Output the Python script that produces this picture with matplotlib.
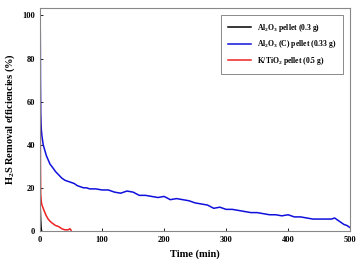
import matplotlib
matplotlib.use('Agg')
import matplotlib.pyplot as plt

# Al2O3 pellet (0.3 g)
t_black = [0, 0.5, 1, 1.5, 2, 2.5]
y_black = [13, 9, 5, 2, 0.5, 0]

# Al2O3 (C) pellet (0.33 g)
t_blue = [0, 0.3, 0.6, 1, 1.5, 2, 3, 4, 5, 7, 10, 13, 16, 20, 25, 30, 35, 40, 45, 50,
          55, 60, 65, 70, 75, 80, 90, 100, 110, 120, 130, 140, 150, 160, 170, 180, 190,
          200, 210, 220, 230, 240, 250, 260, 270, 280, 290, 300, 310, 320, 330, 340,
          350, 360, 370, 380, 390, 400, 410, 420, 430, 440, 450, 460, 470, 475, 480,
          485, 490, 495, 500]
y_blue = [100, 92, 70, 55, 50, 47, 44, 42, 40, 38, 35, 33, 31, 29.5, 27.5, 26, 24.5, 23.5,
          23, 22.5, 22, 21, 20.5, 20, 20, 19.5, 19.5, 19, 19, 18, 17.5, 18.5, 18, 16.5,
          16.5, 16, 15.5, 16, 14.5, 15, 14.5, 14, 13, 12.5, 12, 10.5, 11, 10, 10, 9.5,
          9, 8.5, 8.5, 8, 7.5, 7.5, 7, 7.5, 6.5, 6.5, 6, 5.5, 5.5, 5.5, 5.5, 6, 5,
          4, 3, 2.5, 1.5]

# K/TiO2 pellet (0.5 g)
t_red = [0, 0.3, 0.6, 1, 1.5, 2, 3, 5, 7, 10, 13, 16, 20, 25, 30, 35, 40, 45, 48, 50]
y_red = [92, 60, 30, 17, 15, 13.5, 12, 10.5, 9, 7, 5.5, 4.5, 3.5, 2.5, 2, 1, 0.5, 0.5, 1, 0.3]

plt.rcParams['font.family'] = ['Liberation Serif', 'DejaVu Serif']
plt.rcParams['font.weight'] = 'bold'
plt.rcParams['mathtext.fontset'] = 'custom'
plt.rcParams['mathtext.rm'] = 'Liberation Serif:bold'
plt.rcParams['mathtext.bf'] = 'Liberation Serif:bold'
plt.rcParams['mathtext.default'] = 'bf'

fig = plt.figure(figsize=(3.58, 2.63), dpi=100)
ax = fig.add_axes([0.112, 0.122, 0.866, 0.848])
ax.plot(t_black, y_black, c='black', lw=1.1, label='Al$_2$O$_3$ pellet (0.3 g)')
ax.plot(t_blue, y_blue, c='#1010dd', lw=1.1, label='Al$_2$O$_3$ (C) pellet (0.33 g)')
ax.plot(t_red, y_red, c='#ee2222', lw=1.1, label='K/TiO$_2$ pellet (0.5 g)')

ax.set_xlim(0, 500)
ax.set_ylim(0, 103.5)
ax.set_xticks([0, 100, 200, 300, 400, 500])
ax.set_yticks([0, 20, 40, 60, 80, 100])
ax.tick_params(axis='both', labelsize=6, direction='in', length=2, width=0.6)
for s in ax.spines.values():
    s.set_color('#888888')
    s.set_linewidth(0.8)

ax.set_xlabel('Time (min)', fontsize=7.5, fontweight='bold')
ax.set_ylabel('H$_2$S Removal efficiencies (%)', fontsize=7.5, fontweight='bold')

leg = ax.legend(loc='upper right', fontsize=5.5, frameon=True, fancybox=False,
                edgecolor='#555555', borderaxespad=0.9, handlelength=3,
                labelspacing=0.6, borderpad=0.9)
leg.get_frame().set_linewidth(0.6)

plt.savefig('out.png', dpi=100)
